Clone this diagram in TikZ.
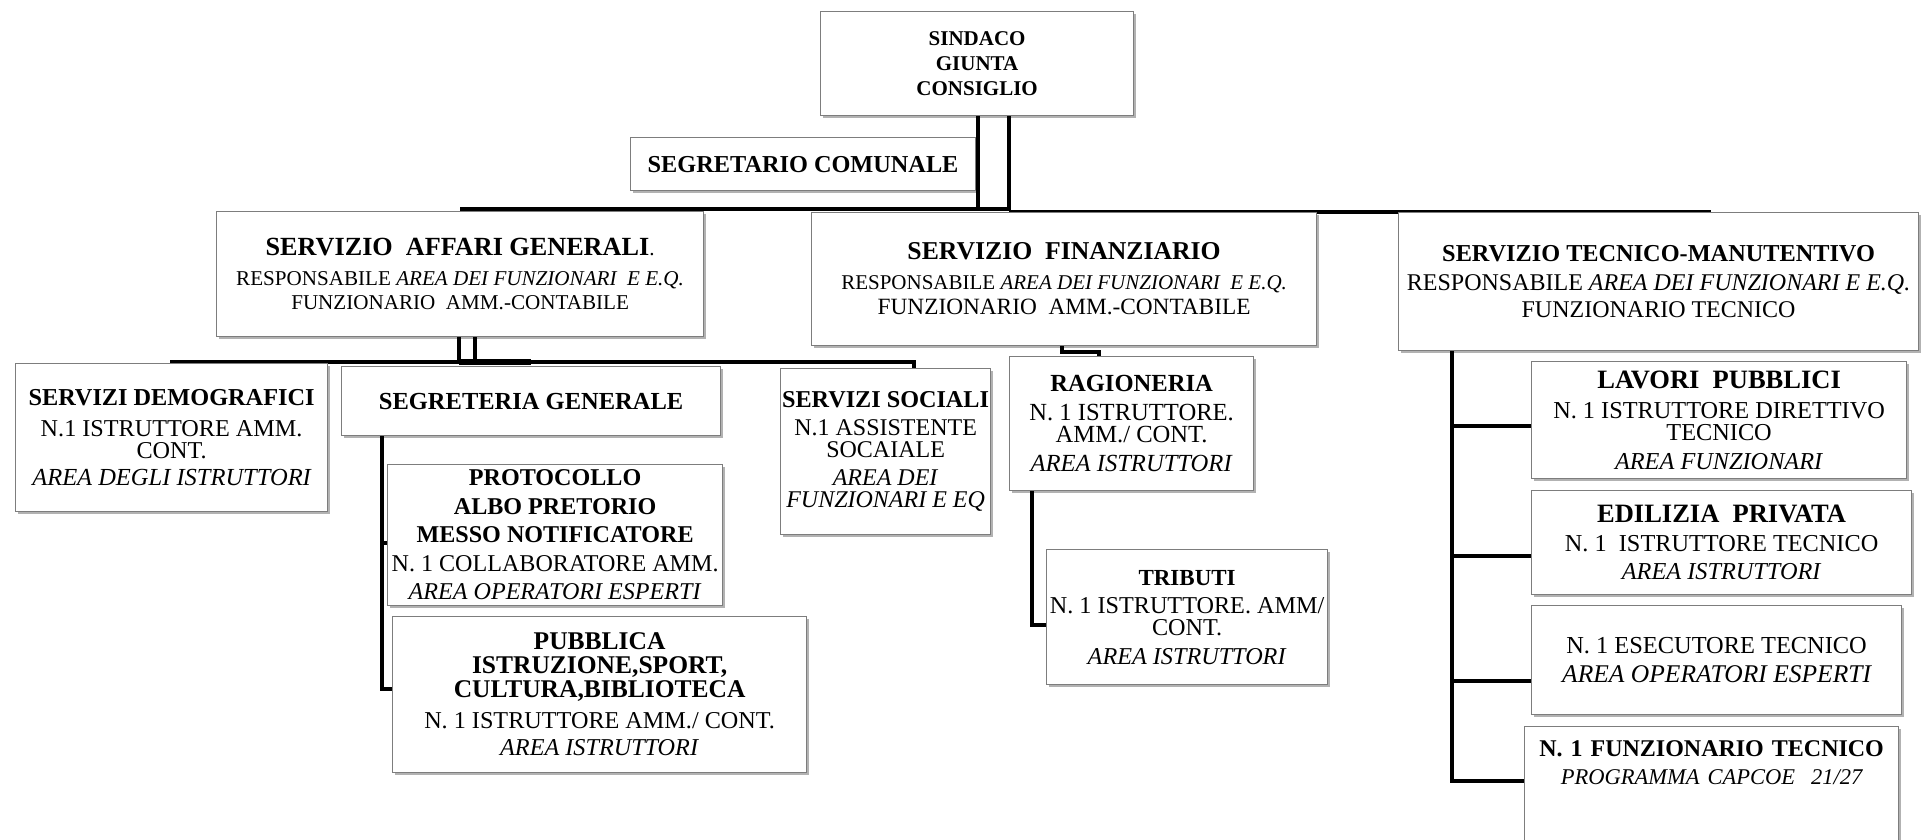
\documentclass[tikz,border=0pt]{standalone}
\usepackage{fontspec}
\setmainfont{Liberation Serif}
\usetikzlibrary{shadows}
\pgfdeclarelayer{bg}
\pgfsetlayers{bg,main}
\newcommand{\myfs}[2]{\fontsize{#1}{#2}\selectfont\lineskiplimit=-30pt\relax}
\definecolor{boxline}{RGB}{125,125,125}
\begin{document}
\begin{tikzpicture}[x=1pt,y=-1pt,
  box/.style={draw=boxline, line width=1.2pt, fill=white, inner sep=0pt, align=center, anchor=north west,
    drop shadow={shadow xshift=2.5pt, shadow yshift=-2.5pt, opacity=0.3, fill=black}},
  conn/.style={draw=black, line width=3.5pt},
  heavyconn/.style={draw=black, line width=4.5pt}]
\useasboundingbox (0,0) rectangle (1921,839);

% ---------- boxes ----------
\node[box, minimum width=313, minimum height=104, font=\bfseries\myfs{21}{25}] (sind) at (820,11) {SINDACO\\GIUNTA\\CONSIGLIO};
\node[box, minimum width=345, minimum height=53, font=\bfseries\myfs{24.3}{26}] (segr) at (630,137) {SEGRETARIO COMUNALE};

\node[box, minimum width=487, minimum height=125, font=\myfs{21.1}{24}] (aff) at (216,211)
  {{\bfseries\myfs{26.2}{28}SERVIZIO~ AFFARI GENERALI}.\\[6pt] RESPONSABILE \textit{AREA DEI FUNZIONARI~ E E.Q.}\\ FUNZIONARIO~ AMM.-CONTABILE};
\node[box, minimum width=505, minimum height=133, font=\myfs{21}{25}] (fin) at (811,212)
  {{\bfseries\myfs{25.7}{28}SERVIZIO~ FINANZIARIO}\\[5pt] RESPONSABILE \textit{AREA DEI FUNZIONARI~ E E.Q.}\\ {\myfs{23.3}{25}FUNZIONARIO~ AMM.-CONTABILE}};
\node[box, minimum width=520, minimum height=138, font=\myfs{24}{27}] (tec) at (1398,212)
  {{\bfseries\myfs{24.3}{27}SERVIZIO TECNICO-MANUTENTIVO}\\[2pt] RESPONSABILE \textit{AREA DEI FUNZIONARI E E.Q.}\\ FUNZIONARIO TECNICO};

\node[box, minimum width=312, minimum height=148, font=\myfs{24.2}{22}] (demo) at (15,363)
  {{\bfseries\myfs{24.3}{22}SERVIZI DEMOGRAFICI}\\[9pt] N.1 ISTRUTTORE AMM.\\ CONT.\\[5pt] {\itshape\myfs{24.5}{22}AREA DEGLI ISTRUTTORI}};
\node[box, minimum width=379, minimum height=69, font=\bfseries\myfs{24.5}{26}] (sgen) at (341,366) {SEGRETERIA GENERALE};
\node[box, minimum width=210, minimum height=166, font=\myfs{24}{22}] (soc) at (780,368)
  {{\bfseries\myfs{24.2}{22}SERVIZI SOCIALI}\\[6pt] N.1 ASSISTENTE\\ SOCAIALE\\[6pt] \textit{AREA DEI}\\ \textit{FUNZIONARI E EQ}};
\node[box, minimum width=244, minimum height=134, font=\myfs{24.6}{22}] (rag) at (1009,356)
  {{\bfseries RAGIONERIA}\\[7pt] N. 1 ISTRUTTORE.\\ AMM./ CONT.\\[7pt] \textit{AREA ISTRUTTORI}};

\node[box, minimum width=335, minimum height=141, font=\myfs{24.1}{28.5}] (prot) at (387,464)
  {{\bfseries PROTOCOLLO}\\ {\bfseries ALBO PRETORIO}\\ {\bfseries MESSO NOTIFICATORE}\\ N. 1 COLLABORATORE AMM.\\ \textit{AREA OPERATORI ESPERTI}};
\node[box, minimum width=414, minimum height=156, font=\myfs{24.2}{24}] (pub) at (392,616)
  {{\bfseries\myfs{25.5}{24}PUBBLICA}\\ {\bfseries\myfs{25.5}{24}ISTRUZIONE,SPORT,}\\ {\bfseries\myfs{25.5}{24}CULTURA,BIBLIOTECA}\\[7pt] N. 1 ISTRUTTORE AMM./ CONT.\\[3pt] \textit{AREA ISTRUTTORI}};
\node[box, minimum width=281, minimum height=135, font=\myfs{24.2}{22}] (trib) at (1046,549)
  {{\bfseries\myfs{23}{22}TRIBUTI}\\[6pt] N. 1 ISTRUTTORE. AMM/\\ CONT.\\[7pt] \textit{AREA ISTRUTTORI}};

\node[box, minimum width=375, minimum height=117, font=\myfs{24.3}{22}] (lav) at (1531,361)
  {{\bfseries\myfs{26.5}{22}LAVORI~ PUBBLICI}\\[8pt] N. 1 ISTRUTTORE DIRETTIVO\\ TECNICO\\[7pt] \textit{AREA FUNZIONARI}};
\node[box, minimum width=380, minimum height=104, font=\myfs{24.3}{28.5}] (edi) at (1531,490)
  {{\bfseries\myfs{26.5}{28}EDILIZIA~ PRIVATA}\\ N. 1~ ISTRUTTORE TECNICO\\ \textit{AREA ISTRUTTORI}};
\node[box, minimum width=370, minimum height=109, font=\myfs{24.4}{29}] (ese) at (1531,605)
  {N. 1 ESECUTORE TECNICO\\ {\itshape\myfs{25.5}{29}AREA OPERATORI ESPERTI}};
\node[box, minimum width=374, minimum height=140, text width=370, font=\myfs{24}{28}] (fte) at (1524,726)
  {{\bfseries N. 1 FUNZIONARIO TECNICO}\\ {\itshape\myfs{22.5}{28}PROGRAMMA CAPCOE~ 21/27}\\[41pt]\mbox{}};

% ---------- connectors ----------
\begin{pgfonlayer}{bg}
\fill[white] (0,0) rectangle (1921,839);
\coordinate (uL) at (978,209);
\coordinate (uR) at (1009,209);
\coordinate (busR) at (1711,212);
\draw[heavyconn] (sind.south -| uL) -- (uL) -- (uR) -- (sind.south -| uR);
\draw[conn] (aff.north |- uL) -- (uL);
\draw[conn] (uR |- busR) -- (busR);

\coordinate (a1) at (459,362);
\coordinate (a2) at (475,362);
\coordinate (bE) at (914,362);
\draw[conn] (aff.south -| a1) -- (a1);
\draw[conn] (aff.south -| a2) -- (a2);
\draw[conn] (demo.north) |- (bE) -- ([yshift=-4pt]bE |- soc.north);
\draw[line width=6pt] (a1) -- (a1 -| sgen.north);

\coordinate (s1) at (382,543);
\coordinate (s2) at (382,689);
\draw[conn] (sgen.south -| s1) -- (s2) -- (s2 -| pub.west);
\draw[conn] (s1) -- (s1 -| prot.west);

\coordinate (f1) at (1062,352);
\coordinate (f2) at (1099,352);
\draw[conn] (fin.south -| f1) -- (f1) -- (f2) -- (f2 |- rag.north);

\coordinate (r1) at (1032,625);
\draw[conn] (rag.south -| r1) -- (r1) -- (r1 -| trib.west);

\coordinate (t1) at (1452,426);
\coordinate (t2) at (1452,556);
\coordinate (t3) at (1452,681);
\coordinate (t4) at (1452,781);
\draw[conn] (tec.south -| t1) -- (t4) -- (t4 -| fte.west);
\draw[conn] (t1) -- (t1 -| lav.west);
\draw[conn] (t2) -- (t2 -| edi.west);
\draw[conn] (t3) -- (t3 -| ese.west);
\end{pgfonlayer}
\end{tikzpicture}
\end{document}
